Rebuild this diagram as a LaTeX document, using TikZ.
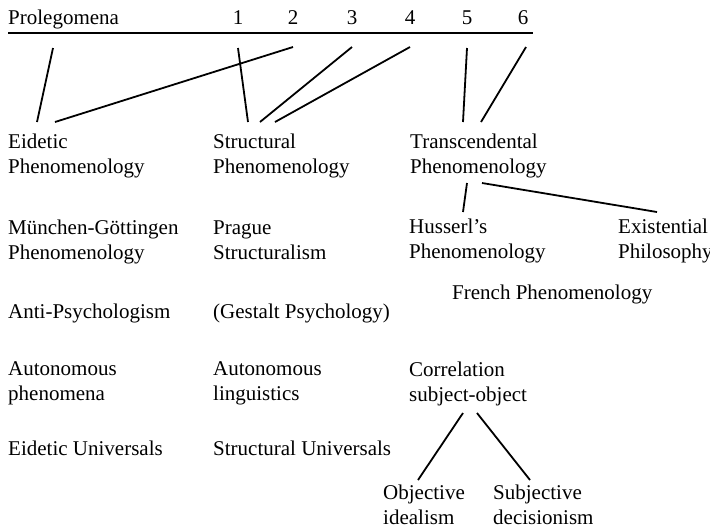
\documentclass[tikz,border=0pt]{standalone}
\usepackage{fontspec}
\setmainfont{Liberation Serif}
\usetikzlibrary{calc}

\begin{document}
\begin{tikzpicture}[x=1pt, y=-1pt,
    lbl/.style={anchor=base west, align=left, inner sep=0pt,
      font=\fontsize{21}{25}\selectfont},
    num/.style={anchor=base, inner sep=0pt, font=\fontsize{21}{25}\selectfont},
    link/.style={line width=1.8pt}]
    \useasboundingbox (0,0) rectangle (710,531);
    % Head row with the numbered parts
    \node[lbl] (prol) at (8,24) {Prolegomena};
    \node[num] (n1) at (238,24) {1};
    \node[num] (n2) at (293,24) {2};
    \node[num] (n3) at (352,24) {3};
    \node[num] (n4) at (410,24) {4};
    \node[num] (n5) at (467,24) {5};
    \node[num] (n6) at (523,24) {6};
    \draw[line width=2pt] ($(prol.base west)+(0,9)$) -- ($(n6.base)+(10,9)$);
    % Left column (base = last line)
    \node[lbl] (eid) at (8,173) {Eidetic\\Phenomenology};
    \node[lbl] (mg) at (8,259) {München-Göttingen\\Phenomenology};
    \node[lbl] (anti) at (8,318) {Anti-Psychologism};
    \node[lbl] (autph) at (8,400) {Autonomous\\phenomena};
    \node[lbl] (eiduni) at (8,455) {Eidetic Universals};
    % Middle column
    \node[lbl] (struct) at (213,173) {Structural\\Phenomenology};
    \node[lbl] (prague) at (213,259) {Prague\\Structuralism};
    \node[lbl] (gestalt) at (213,318) {(Gestalt Psychology)};
    \node[lbl] (autling) at (213,400) {Autonomous\\linguistics};
    \node[lbl] (structuni) at (213,455) {Structural Universals};
    % Right column
    \node[lbl] (trans) at (410,173) {Transcendental\\Phenomenology};
    \node[lbl] (huss) at (409,258) {Husserl's\\Phenomenology};
    \node[lbl] (exist) at (618,258) {Existential\\Philosophy};
    \node[lbl] (french) at (452,299) {French Phenomenology};
    \node[lbl] (corr) at (409,401) {Correlation\\subject-object};
    \node[lbl] (obj) at (383,524) {Objective\\idealism};
    \node[lbl] (subj) at (493,524) {Subjective\\decisionism};
    % Links from the head row
    \draw[link] ($(prol.base west)+(45,24)$) -- ($(eid.base west)+(29,-51)$);
    \draw[link] ($(n2.base)+(0,23)$) -- ($(eid.base west)+(47,-51)$);
    \draw[link] ($(n1.base)+(0,24)$) -- ($(struct.base west)+(35,-51)$);
    \draw[link] ($(n3.base)+(0,23)$) -- ($(struct.base west)+(47,-51)$);
    \draw[link] ($(n4.base)+(0,23)$) -- ($(struct.base west)+(62,-51)$);
    \draw[link] ($(n5.base)+(0,24)$) -- ($(trans.base west)+(53,-51)$);
    \draw[link] ($(n6.base)+(3,23)$) -- ($(trans.base west)+(71,-51)$);
    % Branches below
    \draw[link] ($(trans.base west)+(57,10)$) -- ($(huss.base west)+(54,-46)$);
    \draw[link] ($(trans.base west)+(72,10)$) -- ($(exist.base west)+(39,-46)$);
    \draw[link] ($(corr.base west)+(54,12)$) -- ($(obj.base west)+(35,-44)$);
    \draw[link] ($(corr.base west)+(68,12)$) -- ($(subj.base west)+(37,-44)$);
\end{tikzpicture}
\end{document}
